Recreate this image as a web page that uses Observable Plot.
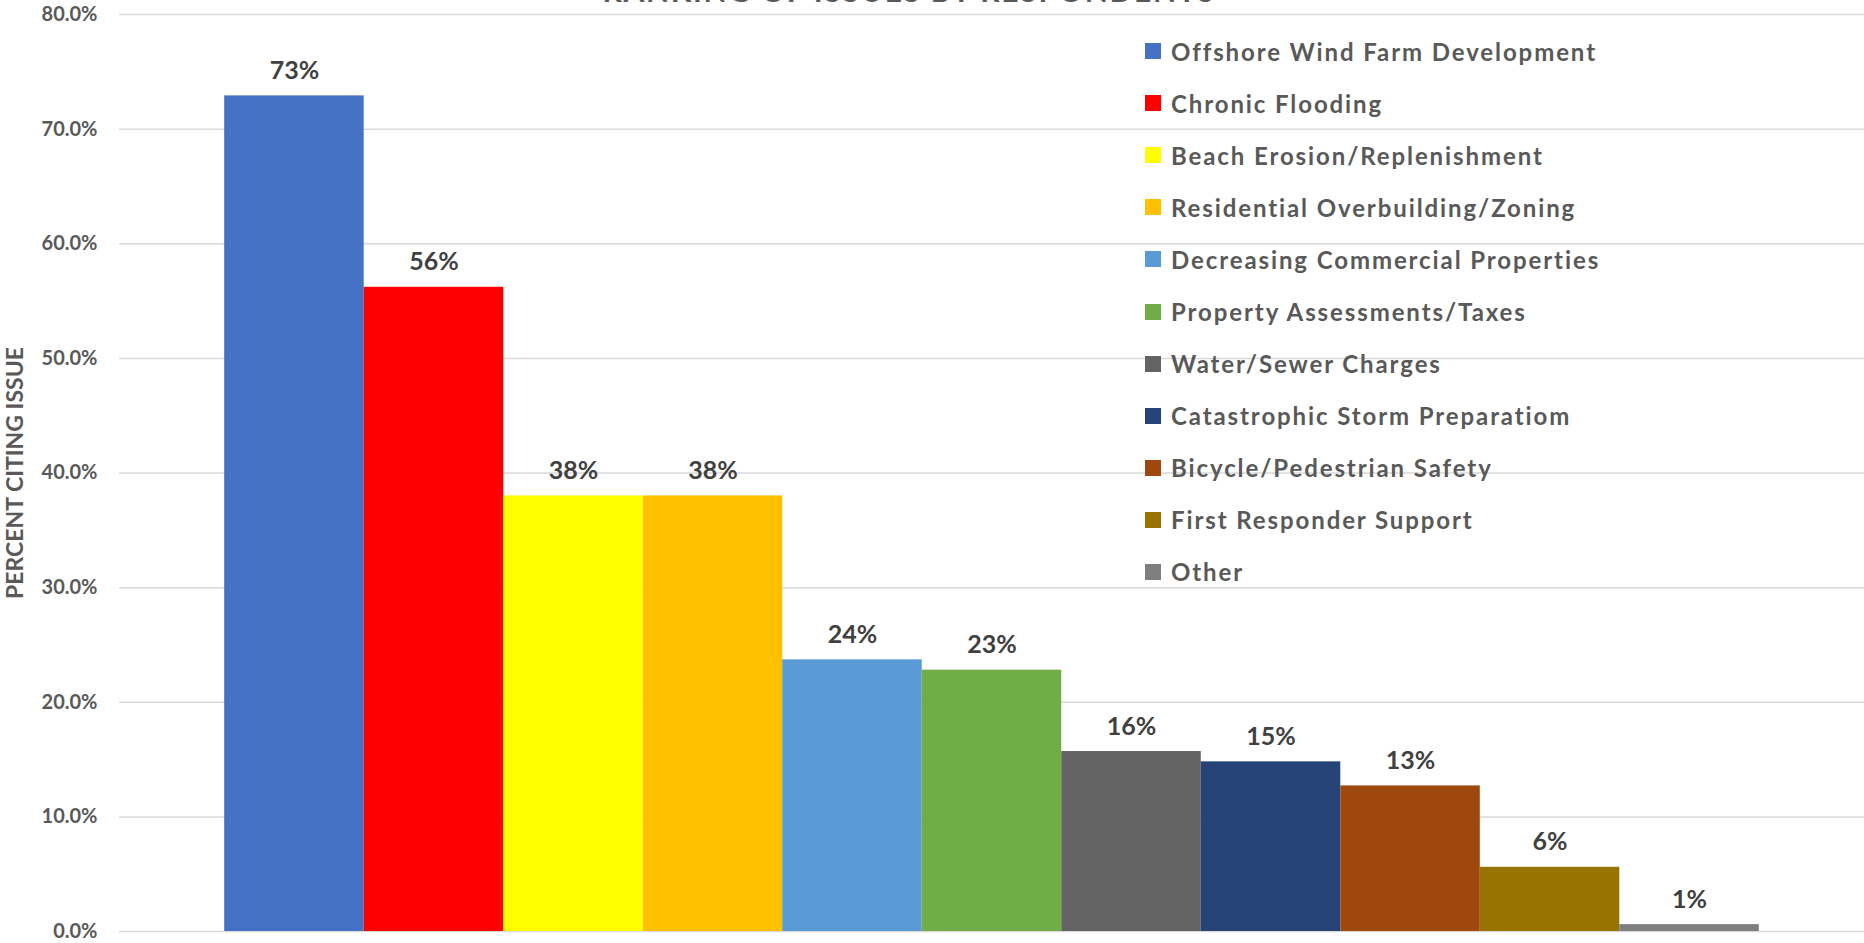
<!DOCTYPE html>
<html>
<head>
<meta charset="utf-8">
<script src="https://cdn.jsdelivr.net/npm/d3@7"></script>
<script src="https://cdn.jsdelivr.net/npm/@observablehq/plot@0.6"></script>
<style>
  html, body { margin: 0; padding: 0; background: #fff; overflow: hidden; }
  #wrap { position: relative; width: 1864px; height: 943px; overflow: hidden; font-family: Lato, "Open Sans", sans-serif; }
  #title { position: absolute; left: 909px; top: -25px; transform: translateX(-50%); white-space: nowrap;
           font-size: 30px; line-height: 30px; font-weight: bold; color: #595959; letter-spacing: 1.7px; }
  #legend { position: absolute; left: 1145px; top: 25px; }
  .row { display: flex; align-items: center; height: 52.1px; }
  .sw { width: 16px; height: 16px; margin-right: 10px; flex: none; }
  .lab { font-size: 24px; font-weight: bold; color: #595959; white-space: nowrap; letter-spacing: 1.9px; }
  svg { position: absolute; left: 0; top: 0; }
</style>
</head>
<body>
<div id="wrap">
  <div id="title">RANKING OF ISSUES BY RESPONDENTS</div>
  <div id="legend"></div>
</div>
<script>
const categories = [
  "Offshore Wind Farm Development",
  "Chronic Flooding",
  "Beach Erosion/Replenishment",
  "Residential Overbuilding/Zoning",
  "Decreasing Commercial Properties",
  "Property Assessments/Taxes",
  "Water/Sewer Charges",
  "Catastrophic Storm Preparatiom",
  "Bicycle/Pedestrian Safety",
  "First Responder Support",
  "Other"
];
const values = [72.9, 56.2, 38.0, 38.0, 23.7, 22.8, 15.7, 14.8, 12.7, 5.6, 0.6];
const colors = ["#4472C4", "#FF0000", "#FFFF00", "#FFC000", "#5B9BD5", "#70AD47",
                "#636363", "#264478", "#9E480E", "#997300", "#7F7F7F"];
const yTicks = [0, 10, 20, 30, 40, 50, 60, 70, 80];
const yLabel = "PERCENT CITING ISSUE";

const data = categories.map((c, i) => ({cat: c, value: values[i]}));

const chart = Plot.plot({
  width: 1864,
  height: 943,
  marginLeft: 119,
  marginRight: 0,
  marginTop: 14,
  marginBottom: 12,
  style: {fontFamily: "Lato, 'Open Sans', sans-serif", fontSize: "20px", fontWeight: "bold", color: "#595959", background: "transparent"},
  x: {domain: categories, axis: null, paddingInner: 0, paddingOuter: 0.754, round: false},
  y: {domain: [0, 80]},
  color: {domain: categories, range: colors},
  marks: [
    Plot.gridY(yTicks, {stroke: "#d9d9d9", strokeOpacity: 1, strokeWidth: 1.5}),
    Plot.barY(data, {x: "cat", y: "value", fill: "cat"}),
    Plot.text(data, {x: "cat", y: "value", text: d => Math.round(d.value) + "%", dy: -17, lineAnchor: "bottom",
                     fontSize: 25, fontWeight: "bold", fill: "#404040"}),
    Plot.axisY(yTicks, {tickSize: 0, tickPadding: 22, tickFormat: d => d.toFixed(1) + "%", label: null}),
    Plot.axisY([], {tickSize: 0, label: yLabel, labelAnchor: "center", labelArrow: "none", labelOffset: 113, fontSize: 23})
  ]
});
document.getElementById("wrap").prepend(chart);

const legend = document.getElementById("legend");
categories.forEach((c, i) => {
  const row = document.createElement("div");
  row.className = "row";
  const sw = document.createElement("div");
  sw.className = "sw";
  sw.style.background = colors[i];
  const lab = document.createElement("div");
  lab.className = "lab";
  lab.textContent = c;
  row.append(sw, lab);
  legend.append(row);
});
</script>
</body>
</html>
